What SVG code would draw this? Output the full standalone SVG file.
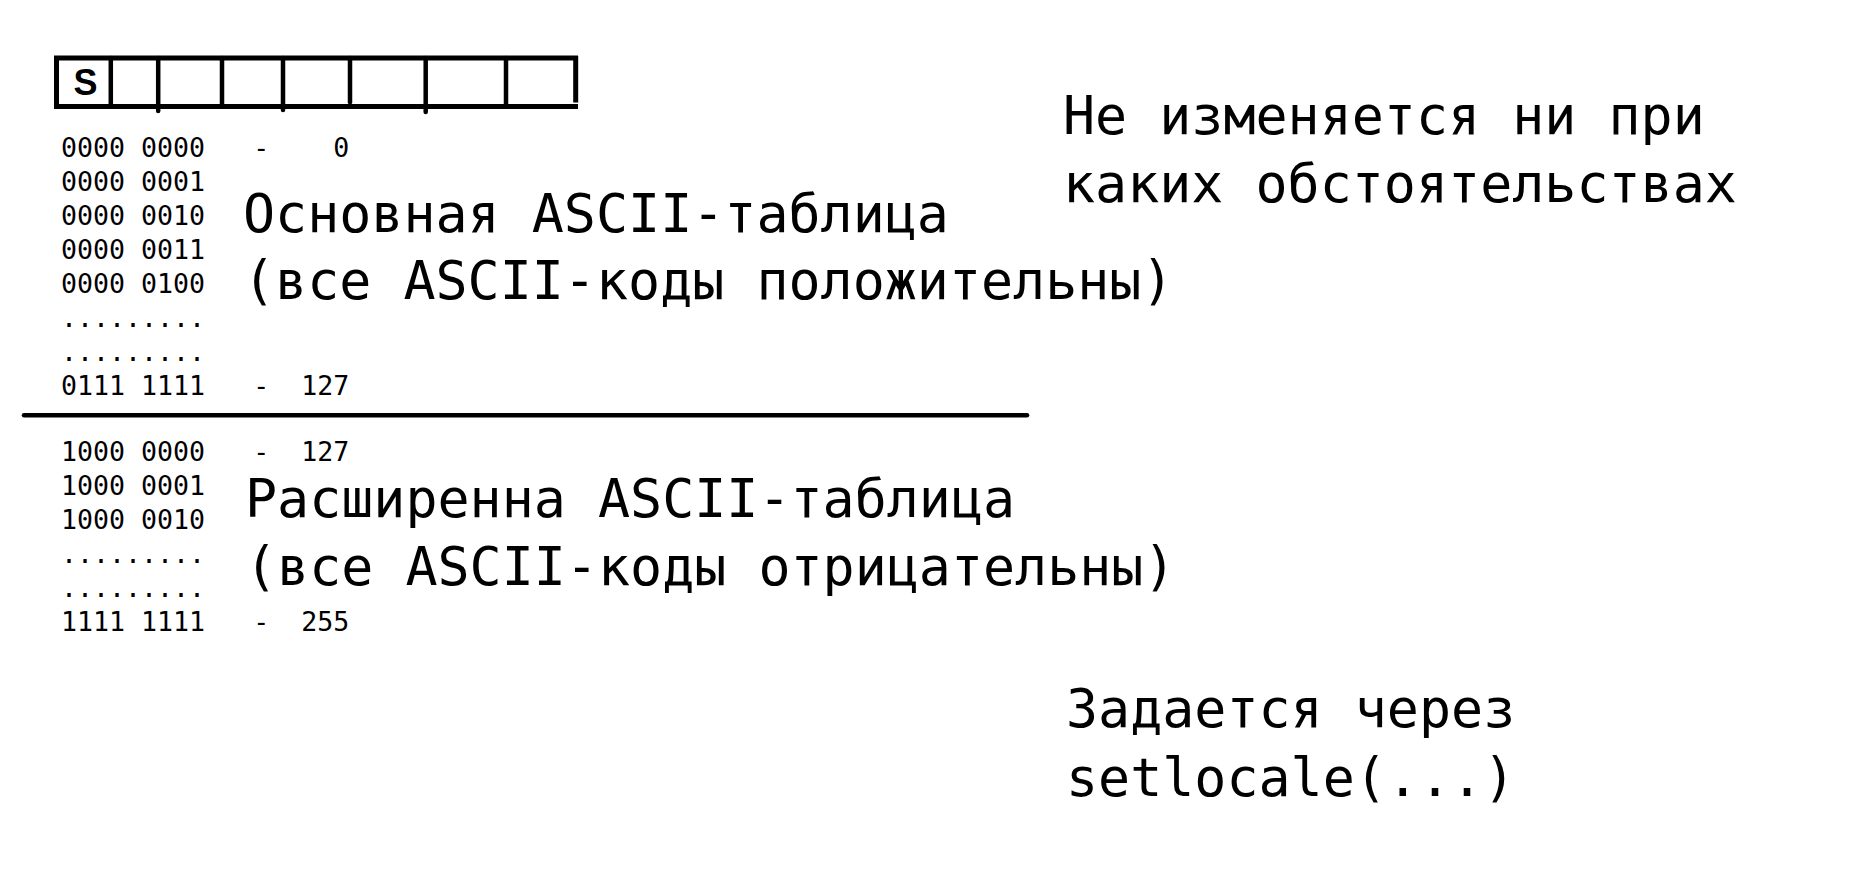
<svg xmlns="http://www.w3.org/2000/svg" width="1862" height="894" viewBox="0 0 1862 894">
<style>
.ln{stroke:#000;stroke-width:5;fill:none;stroke-linecap:butt}
.dv{stroke:#000;stroke-width:4.5;fill:none;stroke-linecap:round}
.sm{font-family:"DejaVu Sans Mono","Liberation Mono",monospace;font-size:26.6px;fill:#000;white-space:pre}
.bg{font-family:"DejaVu Sans Mono","Liberation Mono",monospace;font-size:53.3px;fill:#000}
</style>
<rect width="1862" height="894" fill="#fff"/>
<g id="byte-box">
<line class="ln" x1="54" y1="58" x2="578" y2="58"/>
<line class="ln" x1="54" y1="106.5" x2="578" y2="106.5"/>
<line class="ln" x1="56.5" y1="56" x2="56.5" y2="109"/>
<line class="ln" x1="575.7" y1="56" x2="575.7" y2="102.5"/>
<line class="dv" x1="110.8" y1="58" x2="110.8" y2="106.5"/>
<line class="dv" x1="158.2" y1="58" x2="158.2" y2="111"/>
<line class="dv" x1="222" y1="58" x2="222" y2="106.5"/>
<line class="dv" x1="283" y1="58" x2="283" y2="110"/>
<line class="dv" x1="350" y1="58" x2="350" y2="102.3"/>
<line class="dv" x1="425.7" y1="58" x2="425.7" y2="112"/>
<line class="dv" x1="506" y1="58" x2="506" y2="106.5"/>
<text x="85.5" y="95" text-anchor="middle" font-family="Liberation Sans, Arial, sans-serif" font-weight="bold" font-size="36">S</text>
</g>
<g id="basic-codes" class="sm">
<text x="61" y="157" xml:space="preserve">0000 0000   -    0</text>
<text x="61" y="191">0000 0001</text>
<text x="61" y="225">0000 0010</text>
<text x="61" y="259">0000 0011</text>
<text x="61" y="293">0000 0100</text>
<text x="61" y="327">.........</text>
<text x="61" y="361">.........</text>
<text x="61" y="395" xml:space="preserve">0111 1111   -  127</text>
</g>
<g id="basic-label" class="bg">
<text x="243" y="232">Основная ASCII-таблица</text>
<text x="243" y="299">(все ASCII-коды положительны)</text>
</g>
<g id="divider">
<line x1="24" y1="415.3" x2="1027" y2="415.3" stroke="#000" stroke-width="4.5" stroke-linecap="round"/>
</g>
<g id="extended-codes" class="sm">
<text x="61" y="461" xml:space="preserve">1000 0000   -  127</text>
<text x="61" y="495">1000 0001</text>
<text x="61" y="529">1000 0010</text>
<text x="61" y="563">.........</text>
<text x="61" y="597">.........</text>
<text x="61" y="631" xml:space="preserve">1111 1111   -  255</text>
</g>
<g id="extended-label" class="bg">
<text x="245" y="517">Расширенна ASCII-таблица</text>
<text x="245" y="585">(все ASCII-коды отрицательны)</text>
</g>
<g id="note-fixed" class="bg">
<text x="1063" y="134">Не изменяется ни при</text>
<text x="1063" y="202">каких обстоятельствах</text>
</g>
<g id="note-locale" class="bg">
<text x="1066" y="727">Задается через</text>
<text x="1066" y="796">setlocale(...)</text>
</g>
</svg>
